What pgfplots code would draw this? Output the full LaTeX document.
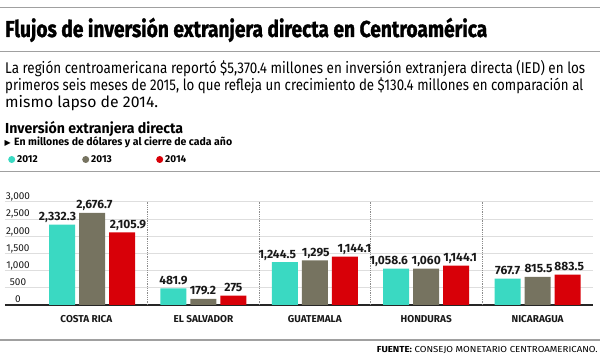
\documentclass[border=0pt]{standalone}
\usepackage{graphicx}
\usepackage{pgfplots}
\pgfplotsset{compat=1.18}
\usepackage{pgfplotstable}
\usepackage{fontspec}
\setmainfont{Fira Sans}
\newfontfamily\titlefont{Fira Sans}[BoldFeatures={FakeBold=1.6}]
\newfontfamily\symfont{DejaVu Sans}
\definecolor{c12}{RGB}{58,217,194}
\definecolor{c13}{RGB}{118,115,96}
\definecolor{c14}{RGB}{216,0,8}
\definecolor{rulec}{RGB}{160,160,160}

\pgfplotstableread{
x y lab dx
0 2332.3 {2,332.3} -4.5
1 481.9 {481.9} 0
2 1244.5 {1,244.5} -7.5
3 1058.6 {1,058.6} -7.5
4 767.7 {767.7} 0
}\tA
\pgfplotstableread{
x y lab dx
0 2676.7 {2,676.7} 2.5
1 179.2 {179.2} -0.5
2 1295 {1,295} 1
3 1060 {1,060} 0
4 815.5 {815.5} 1
}\tB
\pgfplotstableread{
x y lab dx
0 2105.9 {2,105.9} 6
1 275 {275} 0
2 1403 {1,144.1} 9.5
3 1144.1 {1,144.1} 4
4 883.5 {883.5} 1.5
}\tC

\pgfplotsset{
  valbars/.style={
    ybar, bar width=26pt, draw=none, bar shift=#1,
    nodes near coords, point meta=explicit symbolic,
    visualization depends on=\thisrow{dx} \as \dx,
    nodes near coords style={font=\fontsize{12}{14}\selectfont\bfseries, text=black!90,
      anchor=base, inner sep=0pt, yshift=4pt, xshift=#1+\dx pt},
  }
}

\begin{document}
\begin{tikzpicture}[x=1pt,y=1pt]
\useasboundingbox (0,0) rectangle (600,356);
\draw[rulec, line width=1.5pt] (0,348.5) -- (600,348.5);
\node[anchor=base west, inner sep=0pt] at (5,319) {\resizebox{482pt}{\height}{\fontsize{23}{26}\titlefont\bfseries Flujos de inversión extranjera directa en Centroamérica}};
\draw[rulec, line width=1.5pt] (0,304.3) -- (600,304.3);
\node[anchor=base west, inner sep=0pt] at (5,282) {\resizebox{580pt}{\height}{\fontsize{15.5}{18}\selectfont La región centroamericana reportó \$5,370.4 millones en inversión extranjera directa (IED) en los}};
\node[anchor=base west, inner sep=0pt] at (5,265.3) {\resizebox{578pt}{\height}{\fontsize{15.5}{18}\selectfont primeros seis meses de 2015, lo que refleja un crecimiento de \$130.4 millones en comparación al}};
\node[anchor=base west, inner sep=0pt] at (5,248.6) {\resizebox{153pt}{\height}{\fontsize{15.5}{18}\selectfont mismo lapso de 2014.}};
\node[anchor=base west, inner sep=0pt] at (5,222.7) {\resizebox{178pt}{\height}{\fontsize{14.5}{16}\selectfont\bfseries Inversión extranjera directa}};
\node[anchor=base west, inner sep=0pt] at (4.5,210.3) {\symfont\fontsize{8}{10}\selectfont ▶};
\node[anchor=base west, inner sep=0pt] at (14,210.3) {\resizebox{218pt}{\height}{\fontsize{10.6}{12}\selectfont\bfseries En millones de dólares y al cierre de cada año}};
\draw[rulec, line width=1pt] (0,184) -- (600,184);

\begin{axis}[
  at={(5pt,51pt)}, anchor=south west,
  scale only axis, width=588pt, height=103.3pt,
  xmin=-0.781, xmax=4.497, ymin=0, ymax=3000,
  clip=false,
  axis x line*=bottom, axis y line*=left,
  x axis line style={line width=1.6pt, draw=black!85, -},
  y axis line style={draw=none},
  xtick={-0.05,1,2,3,4},
  xticklabels={COSTA RICA, EL SALVADOR, GUATEMALA, HONDURAS, NICARAGUA},
  major tick length=0pt,
  xticklabel style={anchor=base, yshift=-17pt, font=\fontsize{10}{12}\selectfont\bfseries, text=black!90},
  ytick={0,500,...,3000},
  yticklabel style={anchor=base, xshift=13pt, yshift=2pt, font=\fontsize{10}{12}\selectfont, text=black!90},
  /pgf/number format/assume math mode=true,
  /pgf/number format/1000 sep={,},
  scaled y ticks=false,
  ymajorgrids, major grid style={draw=black!13, line width=0.8pt},
  extra x ticks={0.5,1.5,2.5,3.5}, extra x tick labels={},
  extra x tick style={grid=major, major grid style={draw=black!45, densely dotted, line width=0.6pt}},
  legend columns=3,
  legend style={at={(axis description cs:0,1)}, anchor=west, xshift=3pt, yshift=42.2pt,
    draw=none, fill=none, inner sep=0pt,
    font=\fontsize{10}{12}\selectfont\bfseries,
    /tikz/every even column/.append style={column sep=0pt},
    /tikz/every odd column/.append style={column sep=0pt}},
]
\addplot[valbars=-30pt, fill=c12,
  legend image code/.code={\fill[c12] (3.5pt,0pt) circle (3.5pt);}]
  table[x=x, y=y, meta=lab]{\tA};
\addlegendentry{\makebox[63pt][l]{2012}}
\addplot[valbars=0pt, fill=c13,
  legend image code/.code={\fill[c13] (3.5pt,0pt) circle (3.5pt);}]
  table[x=x, y=y, meta=lab]{\tB};
\addlegendentry{\makebox[63pt][l]{2013}}
\addplot[valbars=30pt, fill=c14,
  legend image code/.code={\fill[c14] (3.5pt,0pt) circle (3.5pt);}]
  table[x=x, y=y, meta=lab]{\tC};
\addlegendentry{2014}
\end{axis}

\draw[rulec, line width=2pt] (0,16) -- (600,16);
\node[anchor=base east, inner sep=0pt] at (598,3.7) {\resizebox{221pt}{\height}{\fontsize{8.7}{10}\selectfont\textbf{FUENTE:} CONSEJO MONETARIO CENTROAMERICANO.}};
\end{tikzpicture}
\end{document}
